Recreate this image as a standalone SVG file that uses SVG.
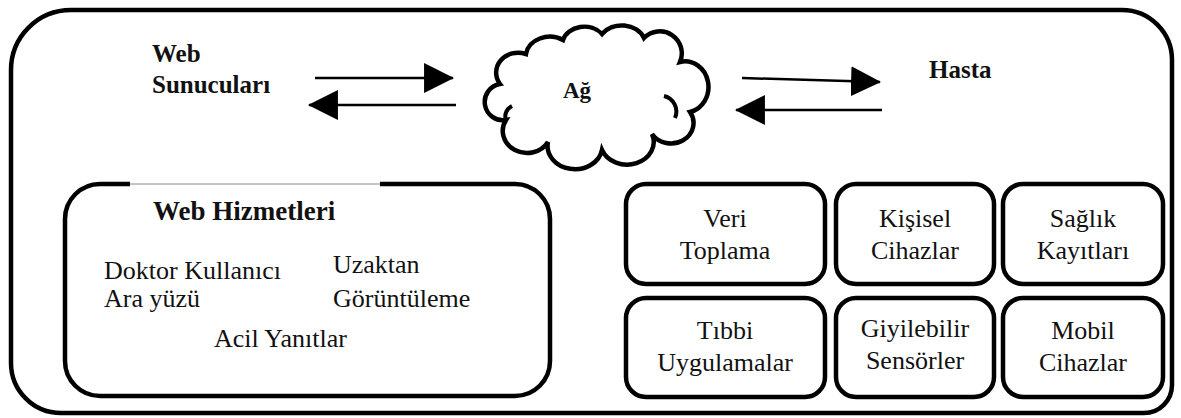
<svg xmlns="http://www.w3.org/2000/svg" width="1181" height="418" viewBox="0 0 1181 418">
<style>
.frame{fill:none;stroke:#000;stroke-width:4.5}
.box{fill:#fff;stroke:#000;stroke-width:4.5}
.t{font-size:26px;fill:#111}
.b{font-weight:bold;fill:#111}
.c{text-anchor:middle}
.conn{stroke:#000;stroke-width:2.5;fill:none}
</style>
<defs>
<marker id="ah" markerUnits="userSpaceOnUse" markerWidth="30" markerHeight="30" viewBox="0 0 28 28" refX="27" refY="14" orient="auto">
<path d="M0,0 L28,14 L0,28 Z" fill="#000"/>
</marker>
</defs>
<rect width="1181" height="418" fill="#fff"/>
<path id="outer" class="frame" d="M71,10 H1122 A50,50 0 0 1 1172,60 V385 A28,28 0 0 1 1144,413 H61 A50,50 0 0 1 11,363 V70 A60,60 0 0 1 71,10 Z"/>

<g font-family="'Liberation Serif', 'DejaVu Serif', 'Times New Roman', serif">
<g id="web-sunuculari">
<text class="b" x="152" y="62" font-size="25">Web</text>
<text class="b" x="152" y="93" font-size="25">Sunucuları</text>
</g>

<g id="ag">
<path fill="#fff" stroke="#000" stroke-width="4.5" d="M500,84 A22,20 0 0 1 526,54 A24,20 0 0 1 563,40 A22,18 0 0 1 602,34 A24,20 0 0 1 644,38 A22,22 0 0 1 680,62 A22,24 0 0 1 690,112 A22,20 0 0 1 652,134 A26,22 0 0 1 602,150 A26,22 0 0 1 548,142 A22,20 0 0 1 506,120 A18,18 0 0 1 500,84 Z"/>
<path fill="none" stroke="#000" stroke-width="4" d="M664,96 A16,16 0 0 1 675,118"/>
<path fill="none" stroke="#000" stroke-width="4" d="M506,120 A14,12 0 0 1 512,106"/>
<text class="b" x="563" y="98" font-size="23">Ağ</text>
</g>

<g id="hasta">
<text class="b" x="929" y="78" font-size="25">Hasta</text>
</g>

<g id="web-hizmetleri">
<path class="frame" d="M130,184 H100 A35,35 0 0 0 65,219 V361 A35,35 0 0 0 100,396 H515 A35,35 0 0 0 550,361 V219 A35,35 0 0 0 515,184 H380"/>
<line x1="130" y1="184" x2="380" y2="184" stroke="#888" stroke-width="1"/>
<text class="b" x="153" y="220" font-size="27">Web Hizmetleri</text>
<text class="t" x="104" y="279">Doktor Kullanıcı</text>
<text class="t" x="104" y="307">Ara yüzü</text>
<text class="t" x="333" y="273">Uzaktan</text>
<text class="t" x="333" y="307">Görüntüleme</text>
<text class="t" x="214" y="347">Acil Yanıtlar</text>
</g>

<g id="veri-toplama">
<rect class="box" x="626" y="184" width="199" height="100" rx="20"/>
<text class="t c" x="725" y="227">Veri</text>
<text class="t c" x="725" y="259">Toplama</text>
</g>
<g id="kisisel-cihazlar">
<rect class="box" x="836" y="184" width="158" height="100" rx="20"/>
<text class="t c" x="915" y="227">Kişisel</text>
<text class="t c" x="915" y="259">Cihazlar</text>
</g>
<g id="saglik-kayitlari">
<rect class="box" x="1003" y="184" width="160" height="100" rx="20"/>
<text class="t c" x="1083" y="227">Sağlık</text>
<text class="t c" x="1083" y="259">Kayıtları</text>
</g>
<g id="tibbi-uygulamalar">
<rect class="box" x="626" y="298" width="199" height="99" rx="20"/>
<text class="t c" x="725" y="339">Tıbbi</text>
<text class="t c" x="725" y="371">Uygulamalar</text>
</g>
<g id="giyilebilir-sensorler">
<rect class="box" x="836" y="298" width="158" height="99" rx="20"/>
<text class="t c" x="915" y="337" font-size="23">Giyilebilir</text>
<text class="t c" x="915" y="369">Sensörler</text>
</g>
<g id="mobil-cihazlar">
<rect class="box" x="1003" y="298" width="160" height="99" rx="20"/>
<text class="t c" x="1083" y="339">Mobil</text>
<text class="t c" x="1083" y="371">Cihazlar</text>
</g>
</g>

<g id="connectors">
<line class="conn" x1="315" y1="78" x2="453" y2="78" marker-end="url(#ah)"/>
<line class="conn" x1="456" y1="105" x2="309" y2="105" marker-end="url(#ah)"/>
<line class="conn" x1="742" y1="78" x2="880" y2="82" marker-end="url(#ah)"/>
<line class="conn" x1="882" y1="110" x2="736" y2="110" marker-end="url(#ah)"/>
</g>
</svg>
